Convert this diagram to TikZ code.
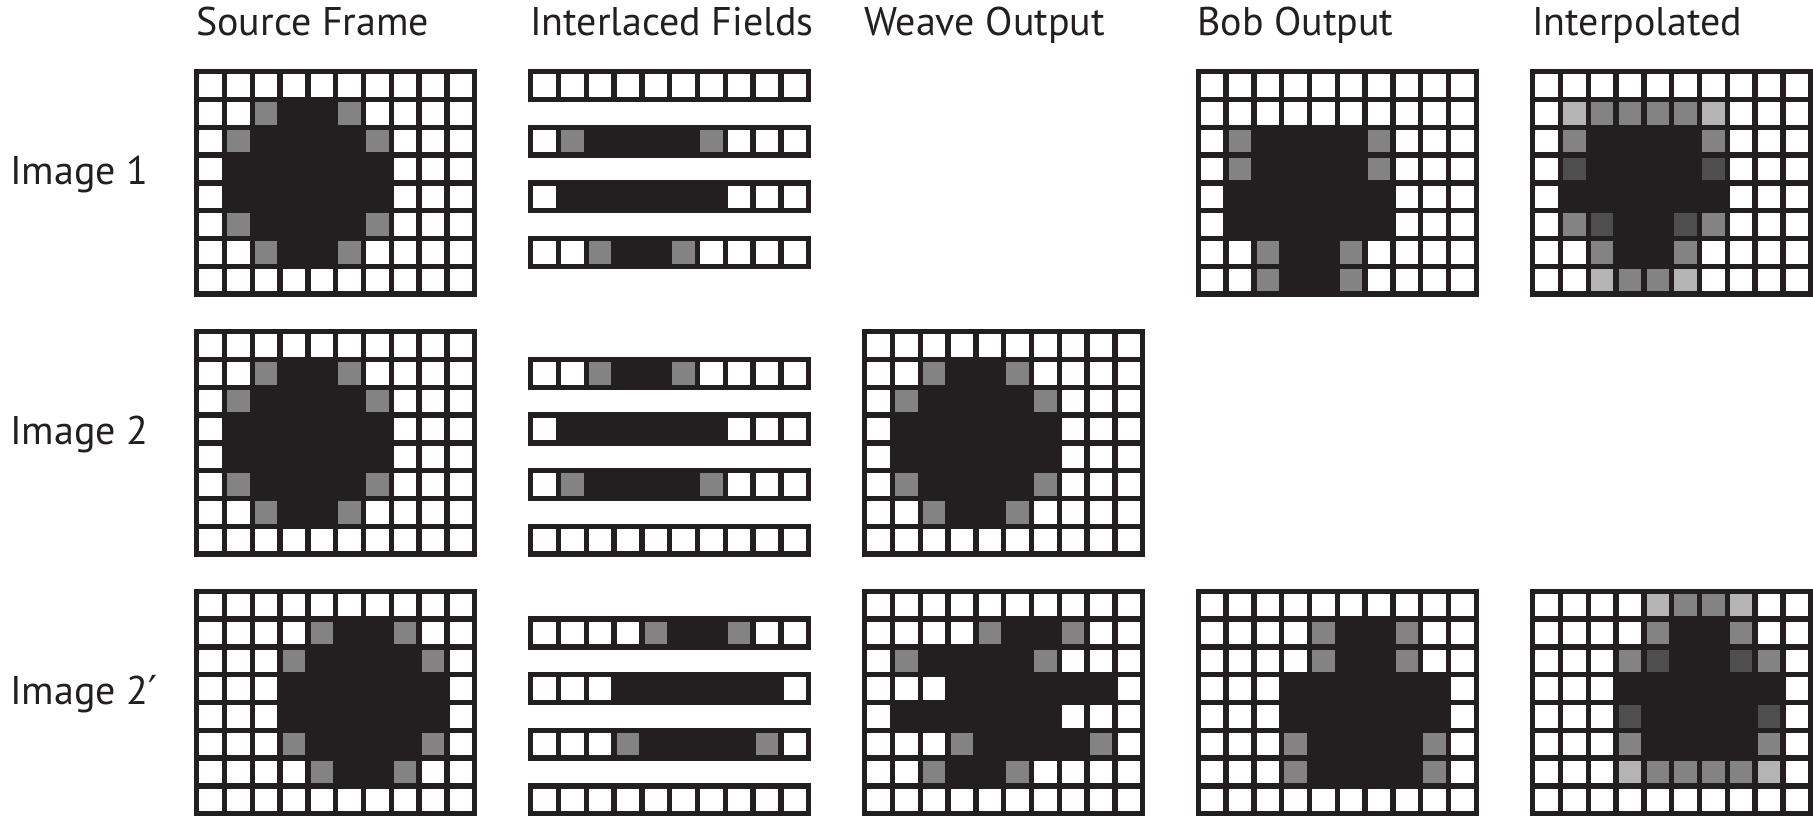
\documentclass[tikz,border=0pt]{standalone}
\usepackage{fontspec}
\setmainfont{PT Sans}
\newfontfamily\primefont{DejaVu Sans}
\definecolor{ink}{HTML}{231F20}
\colorlet{cB}{ink}
\definecolor{cW}{HTML}{FFFFFF}
\definecolor{cG}{HTML}{838383}
\definecolor{cL}{HTML}{B4B4B4}
\definecolor{cD}{HTML}{4E4E4E}
\def\pxp{27.8}
\def\pxg{5.4}
\newcommand\pixgrid[3]{%
  \fill[ink] (#1,#2) rectangle ++({10*\pxp+\pxg},{8*\pxp+\pxg});
  \foreach \pxrow [count=\pxr from 0] in {#3} {
    \foreach \pxc [count=\pxi from 0] in \pxrow {
      \fill[fill=c\pxc] ({#1+\pxg+\pxi*\pxp},{#2+\pxg+\pxr*\pxp}) rectangle ++({\pxp-\pxg},{\pxp-\pxg});
    }
  }
}
\newcommand\pixstrip[4]{%
  \fill[ink] (#1,{#2+#3*\pxp}) rectangle ++({10*\pxp+\pxg},{\pxp+\pxg});
  \foreach \pxc [count=\pxi from 0] in {#4} {
    \fill[fill=c\pxc] ({#1+\pxg+\pxi*\pxp},{#2+#3*\pxp+\pxg}) rectangle ++({\pxp-\pxg},{\pxp-\pxg});
  }
}
\tikzset{lbl/.style={font=\fontsize{40}{48}\selectfont, inner sep=0pt, anchor=base west, text=ink}}
\begin{document}
\begin{tikzpicture}[x=1pt,y=-1pt]
\fill[white] (0,0) rectangle (1813,816);
\useasboundingbox (0,0) rectangle (1813,816);
% headers
\node[lbl] (hsrc) at (196,36) {Source Frame};
\node[lbl] (hint) at (530,36) {Interlaced Fields};
\node[lbl] (hwea) at (864,36) {Weave Output};
\node[lbl] (hbob) at (1197,36) {Bob Output};
\node[lbl] (hipl) at (1532,36) {Interpolated};
% row labels
\node[lbl] (l1) at (10,184) {Image 1};
\node[lbl] (l2) at (10,444) {Image 2};
\node[lbl] (l3) at (10,704) {Image 2{\primefont ′}};
% ---------- Row 1 ----------
\pixgrid{194}{69}{
{W,W,W,W,W,W,W,W,W,W},
{W,W,G,B,B,G,W,W,W,W},
{W,G,B,B,B,B,G,W,W,W},
{W,B,B,B,B,B,B,W,W,W},
{W,B,B,B,B,B,B,W,W,W},
{W,G,B,B,B,B,G,W,W,W},
{W,W,G,B,B,G,W,W,W,W},
{W,W,W,W,W,W,W,W,W,W}}
\pixstrip{528}{69}{0}{W,W,W,W,W,W,W,W,W,W}
\pixstrip{528}{69}{2}{W,G,B,B,B,B,G,W,W,W}
\pixstrip{528}{69}{4}{W,B,B,B,B,B,B,W,W,W}
\pixstrip{528}{69}{6}{W,W,G,B,B,G,W,W,W,W}
\pixgrid{1195.5}{69}{
{W,W,W,W,W,W,W,W,W,W},
{W,W,W,W,W,W,W,W,W,W},
{W,G,B,B,B,B,G,W,W,W},
{W,G,B,B,B,B,G,W,W,W},
{W,B,B,B,B,B,B,W,W,W},
{W,B,B,B,B,B,B,W,W,W},
{W,W,G,B,B,G,W,W,W,W},
{W,W,G,B,B,G,W,W,W,W}}
\pixgrid{1530}{69}{
{W,W,W,W,W,W,W,W,W,W},
{W,L,G,G,G,G,L,W,W,W},
{W,G,B,B,B,B,G,W,W,W},
{W,D,B,B,B,B,D,W,W,W},
{W,B,B,B,B,B,B,W,W,W},
{W,G,D,B,B,D,G,W,W,W},
{W,W,G,B,B,G,W,W,W,W},
{W,W,L,G,G,L,W,W,W,W}}
% ---------- Row 2 ----------
\pixgrid{194}{329}{
{W,W,W,W,W,W,W,W,W,W},
{W,W,G,B,B,G,W,W,W,W},
{W,G,B,B,B,B,G,W,W,W},
{W,B,B,B,B,B,B,W,W,W},
{W,B,B,B,B,B,B,W,W,W},
{W,G,B,B,B,B,G,W,W,W},
{W,W,G,B,B,G,W,W,W,W},
{W,W,W,W,W,W,W,W,W,W}}
\pixstrip{528}{329}{1}{W,W,G,B,B,G,W,W,W,W}
\pixstrip{528}{329}{3}{W,B,B,B,B,B,B,W,W,W}
\pixstrip{528}{329}{5}{W,G,B,B,B,B,G,W,W,W}
\pixstrip{528}{329}{7}{W,W,W,W,W,W,W,W,W,W}
\pixgrid{862}{329}{
{W,W,W,W,W,W,W,W,W,W},
{W,W,G,B,B,G,W,W,W,W},
{W,G,B,B,B,B,G,W,W,W},
{W,B,B,B,B,B,B,W,W,W},
{W,B,B,B,B,B,B,W,W,W},
{W,G,B,B,B,B,G,W,W,W},
{W,W,G,B,B,G,W,W,W,W},
{W,W,W,W,W,W,W,W,W,W}}
% ---------- Row 3 ----------
\pixgrid{194}{588.5}{
{W,W,W,W,W,W,W,W,W,W},
{W,W,W,W,G,B,B,G,W,W},
{W,W,W,G,B,B,B,B,G,W},
{W,W,W,B,B,B,B,B,B,W},
{W,W,W,B,B,B,B,B,B,W},
{W,W,W,G,B,B,B,B,G,W},
{W,W,W,W,G,B,B,G,W,W},
{W,W,W,W,W,W,W,W,W,W}}
\pixstrip{528}{588.5}{1}{W,W,W,W,G,B,B,G,W,W}
\pixstrip{528}{588.5}{3}{W,W,W,B,B,B,B,B,B,W}
\pixstrip{528}{588.5}{5}{W,W,W,G,B,B,B,B,G,W}
\pixstrip{528}{588.5}{7}{W,W,W,W,W,W,W,W,W,W}
\pixgrid{862}{588.5}{
{W,W,W,W,W,W,W,W,W,W},
{W,W,W,W,G,B,B,G,W,W},
{W,G,B,B,B,B,G,W,W,W},
{W,W,W,B,B,B,B,B,B,W},
{W,B,B,B,B,B,B,W,W,W},
{W,W,W,G,B,B,B,B,G,W},
{W,W,G,B,B,G,W,W,W,W},
{W,W,W,W,W,W,W,W,W,W}}
\pixgrid{1195.5}{588.5}{
{W,W,W,W,W,W,W,W,W,W},
{W,W,W,W,G,B,B,G,W,W},
{W,W,W,W,G,B,B,G,W,W},
{W,W,W,B,B,B,B,B,B,W},
{W,W,W,B,B,B,B,B,B,W},
{W,W,W,G,B,B,B,B,G,W},
{W,W,W,G,B,B,B,B,G,W},
{W,W,W,W,W,W,W,W,W,W}}
\pixgrid{1530}{588.5}{
{W,W,W,W,L,G,G,L,W,W},
{W,W,W,W,G,B,B,G,W,W},
{W,W,W,G,D,B,B,D,G,W},
{W,W,W,B,B,B,B,B,B,W},
{W,W,W,D,B,B,B,B,D,W},
{W,W,W,G,B,B,B,B,G,W},
{W,W,W,L,G,G,G,G,L,W},
{W,W,W,W,W,W,W,W,W,W}}
\end{tikzpicture}
\end{document}
